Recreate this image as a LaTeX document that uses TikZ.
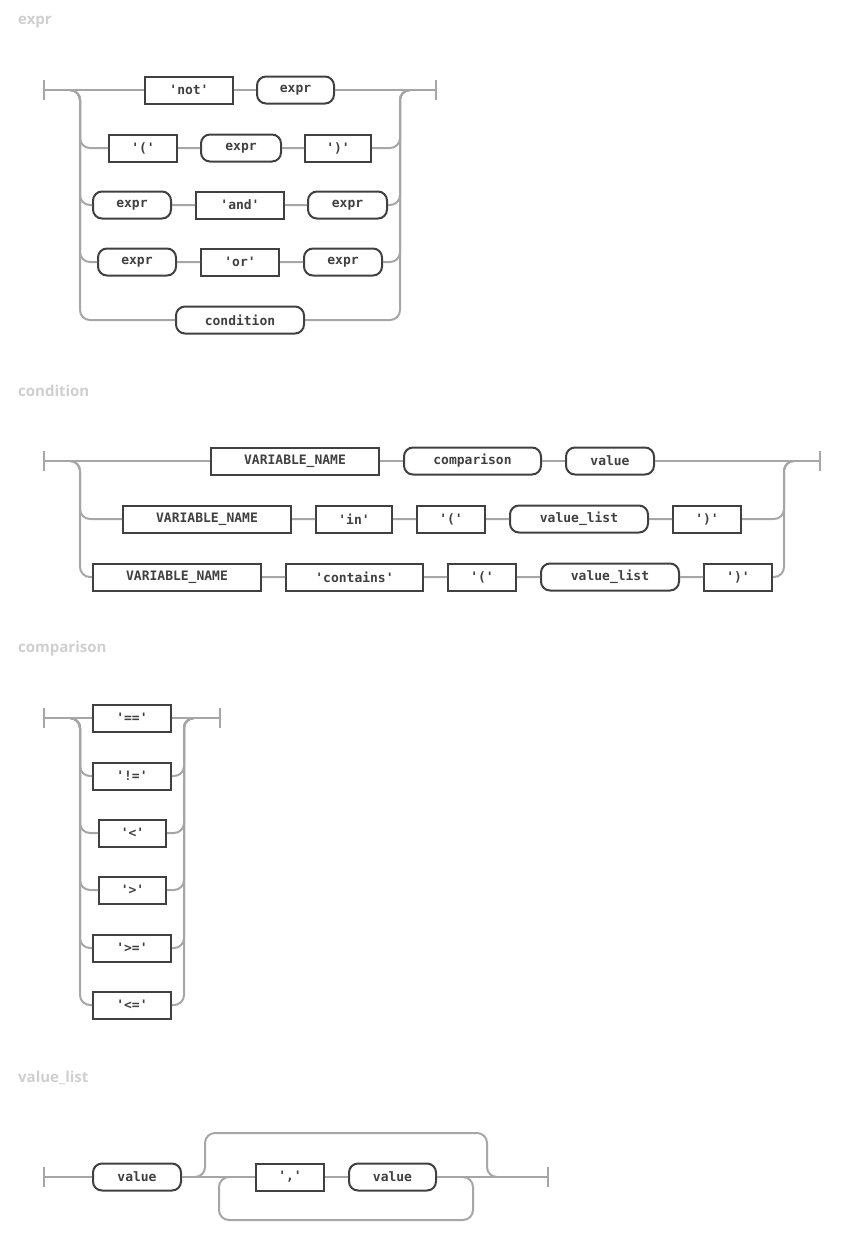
\documentclass[tikz,border=0pt]{standalone}
\usepackage{fontspec}
\newfontfamily\boxfont{DejaVu Sans Mono}[Ligatures=ResetAll]
\newfontfamily\titlefont{Open Sans}
\definecolor{railgray}{HTML}{A6A6A6}
\definecolor{boxgray}{HTML}{404040}
\definecolor{titlegray}{HTML}{CFCFCF}
\tikzset{
  rail/.style={draw=railgray, line width=2pt, rounded corners=10pt},
  term/.style={draw=boxgray, fill=white, line width=2pt, minimum height=27pt,
    inner sep=0pt, font=\boxfont\bfseries\fontsize{13}{15}\selectfont, text=boxgray},
  nterm/.style={term, rounded corners=9pt},
  title/.style={anchor=west, inner sep=0pt, text=titlegray,
    font=\titlefont\bfseries\fontsize{15}{18}\selectfont}
}
\begin{document}
\begin{tikzpicture}[x=1pt,y=-1pt]
\useasboundingbox (0,0) rectangle (862,1251);

%expr
\node[title] (t1) at (18,22) {expr};
\node[term, minimum width=88] (not) at (189,90) {'not'};
\node[nterm, minimum width=77] (e1) at (295.5,90) {expr};
\node[term, minimum width=68] (lp1) at (143,148) {'('};
\node[nterm, minimum width=80] (e2) at (241,148) {expr};
\node[term, minimum width=66] (rp1) at (338,148) {')'};
\node[nterm, minimum width=78] (e3) at (132,205) {expr};
\node[term, minimum width=88] (and) at (240,205) {'and'};
\node[nterm, minimum width=79] (e4) at (347.5,205) {expr};
\node[nterm, minimum width=78] (e5) at (137,262) {expr};
\node[term, minimum width=78] (or) at (240,262) {'or'};
\node[nterm, minimum width=78] (e6) at (343,262) {expr};
\node[nterm, minimum width=128] (cond) at (240,320) {condition};
\coordinate (xs) at (44,90);
\coordinate (xe) at (436,90);
\begin{scope}[on background layer/.style={}]
\end{scope}
\draw[rail] (44,80) -- (44,100) (436,80) -- (436,100);
\draw[rail] (xs) -- (not) (not) -- (e1) (e1) -- (xe);
\draw[rail] (70,90) -| (80,148) -- (lp1) (lp1) -- (e2) (e2) -- (rp1) (rp1) -- (400,148) |- (410,90);
\draw[rail] (70,90) -| (80,205) -- (e3) (e3) -- (and) (and) -- (e4) (e4) -- (400,205) |- (410,90);
\draw[rail] (70,90) -| (80,262) -- (e5) (e5) -- (or) (or) -- (e6) (e6) -- (400,262) |- (410,90);
\draw[rail] (70,90) -| (80,320) -- (cond) (cond) -- (400,320) |- (410,90);

%condition
\node[title] (t2) at (18,391) {condition};
\node[term, minimum width=168] (v1) at (295,461) {VARIABLE\_NAME};
\node[nterm, minimum width=137] (cmp) at (472.5,461) {comparison};
\node[nterm, minimum width=88] (val1) at (610,461) {value};
\node[term, minimum width=168] (v2) at (207,519) {VARIABLE\_NAME};
\node[term, minimum width=76] (in) at (354,519) {'in'};
\node[term, minimum width=68] (lp2) at (451,519) {'('};
\node[nterm, minimum width=138] (vl1) at (579,519) {value\_list};
\node[term, minimum width=68] (rp2) at (707,519) {')'};
\node[term, minimum width=168] (v3) at (177,577) {VARIABLE\_NAME};
\node[term, minimum width=137] (cont) at (354.5,577) {'contains'};
\node[term, minimum width=68] (lp3) at (482,577) {'('};
\node[nterm, minimum width=138] (vl2) at (610,577) {value\_list};
\node[term, minimum width=68] (rp3) at (738,577) {')'};
\coordinate (cs) at (44,461);
\coordinate (ce) at (820,461);
\draw[rail] (44,451) -- (44,471) (820,451) -- (820,471);
\draw[rail] (cs) -- (v1) (v1) -- (cmp) (cmp) -- (val1) (val1) -- (ce);
\draw[rail] (70,461) -| (80,519) -- (v2) (v2) -- (in) (in) -- (lp2) (lp2) -- (vl1) (vl1) -- (rp2) (rp2) -- (784,519) |- (794,461);
\draw[rail] (70,461) -| (80,577) -- (v3) (v3) -- (cont) (cont) -- (lp3) (lp3) -- (vl2) (vl2) -- (rp3) (rp3) -- (784,577) |- (794,461);

%comparison
\node[title] (t3) at (18,649) {comparison};
\node[term, minimum width=78] (eq) at (132,718) {'=='};
\node[term, minimum width=78] (ne) at (132,776) {'!='};
\node[term, minimum width=67] (lt) at (132.5,833) {'<'};
\node[term, minimum width=67] (gt) at (132.5,890) {'>'};
\node[term, minimum width=78] (ge) at (132,948) {'>='};
\node[term, minimum width=78] (le) at (132,1005) {'<='};
\coordinate (ms) at (44,718);
\coordinate (me) at (220,718);
\draw[rail] (44,708) -- (44,728) (220,708) -- (220,728);
\draw[rail] (ms) -- (eq) (eq) -- (me);
\foreach \n/\y in {ne/776, lt/833, gt/890, ge/948, le/1005}
  \draw[rail] (70,718) -| (80,\y) -- (\n) (\n) -- (184,\y) |- (194,718);

%value_list
\node[title] (t4) at (18,1078) {value\_list};
\node[nterm, minimum width=88] (val2) at (137,1177) {value};
\node[term, minimum width=68] (comma) at (290,1177) {','};
\node[nterm, minimum width=87] (val3) at (392.5,1177) {value};
\coordinate (ls) at (44,1177);
\coordinate (le) at (548,1177);
\draw[rail] (44,1167) -- (44,1187) (548,1167) -- (548,1187);
\draw[rail] (ls) -- (val2) (val2) -- (comma) (comma) -- (val3) (val3) -- (le);
\draw[rail] (195,1177) -| (205,1133) -| (487,1177) -- (497,1177);
\draw[rail] (462,1177) -| (473,1220) -| (219,1177) -- (230,1177);
\end{tikzpicture}
\end{document}
